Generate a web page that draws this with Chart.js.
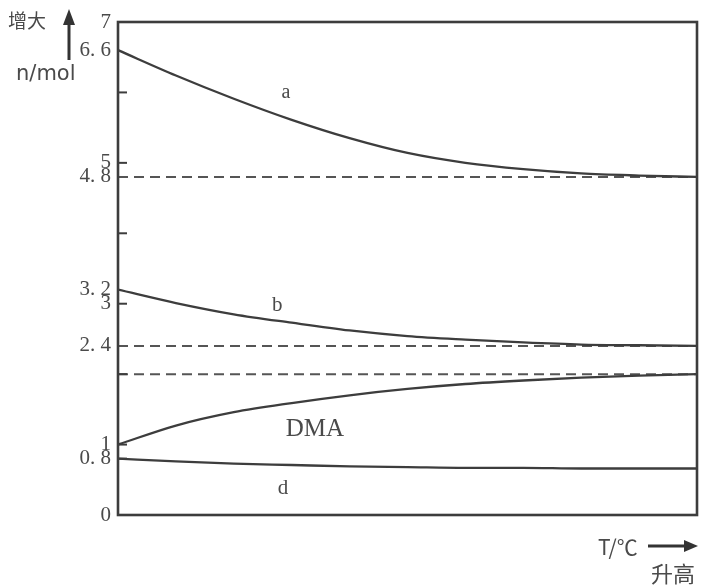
<!DOCTYPE html>
<html>
<head>
<meta charset="utf-8">
<script src="https://cdn.jsdelivr.net/npm/chart.js@4.4.1/dist/chart.umd.min.js"></script>
<style>
  html, body { margin: 0; padding: 0; background: #fff; }
  #wrap { width: 702px; height: 587px; position: relative; }
</style>
</head>
<body>
<div id="wrap"><canvas id="c" width="702" height="587"></canvas></div>
<script>
// ---- data ----
const tSteps     = [0, 1, 2, 3, 4, 5, 6, 7, 8, 9, 10];          // temperature rising (no scale values)
const seriesA    = [6.6, 6.24, 5.91, 5.61, 5.35, 5.14, 5.00, 4.91, 4.85, 4.82, 4.80];
const seriesB    = [3.2, 3.01, 2.85, 2.73, 2.62, 2.54, 2.49, 2.45, 2.42, 2.41, 2.40];
const seriesDMA  = [1.0, 1.27, 1.46, 1.59, 1.70, 1.79, 1.86, 1.91, 1.95, 1.98, 2.00];
const seriesD    = [0.8, 0.76, 0.73, 0.71, 0.69, 0.68, 0.67, 0.67, 0.66, 0.66, 0.66];
const limitLevels = [4.8, 2.4, 2.0];                            // dashed asymptotes
const yTickValues = [0, 0.8, 1, 2.4, 3, 3.2, 4.8, 5, 6.6, 7];  // labelled ticks
const yMarkValues = [0.8, 1, 2, 3, 4, 5, 6];                    // small inward tick marks
const curveNames  = ['a', 'b', 'DMA', 'd'];

const INK = '#3d3d3d';
const TXT = '#4a4a4a';

function pts(arr) { return arr.map((v, i) => ({ x: tSteps[i], y: v })); }
function flat(v) { return [{ x: tSteps[0], y: v }, { x: tSteps[tSteps.length - 1], y: v }]; }
function fmt(v) {
  if (Number.isInteger(v)) return String(v);
  return v.toFixed(1).replace('.', '. ');
}

const solid = (data) => ({
  data: pts(data), borderColor: INK, borderWidth: 2.3, pointRadius: 0,
  cubicInterpolationMode: 'monotone', fill: false
});
const dashed = (v) => ({
  data: flat(v), borderColor: '#555', borderWidth: 2, borderDash: [10, 6],
  pointRadius: 0, fill: false
});

const curveLabelAnchors = [
  { t: 2.9, n: 6.0, font: '20px "Liberation Serif"' },
  { t: 2.75, n: 2.98, font: '21px "Liberation Serif"' },
  { t: 3.4, n: 1.22, font: '25px "Liberation Serif"' },
  { t: 2.85, n: 0.38, font: '21px "Liberation Serif"' }
];

const decor = {
  id: 'decor',
  afterDatasetsDraw(chart) {
    const { ctx, chartArea: ca, scales: { x, y } } = chart;
    ctx.save();
    // frame
    ctx.strokeStyle = INK;
    ctx.lineWidth = 2.6;
    ctx.strokeRect(ca.left, ca.top, ca.right - ca.left, ca.bottom - ca.top);
    // inward tick marks
    ctx.lineWidth = 2;
    yMarkValues.forEach(v => {
      const py = y.getPixelForValue(v);
      ctx.beginPath(); ctx.moveTo(ca.left, py); ctx.lineTo(ca.left + 9, py); ctx.stroke();
    });
    // curve labels
    ctx.fillStyle = TXT;
    ctx.textAlign = 'center';
    ctx.textBaseline = 'middle';
    curveNames.forEach((name, i) => {
      const a = curveLabelAnchors[i];
      ctx.font = a.font;
      ctx.fillText(name, x.getPixelForValue(a.t), y.getPixelForValue(a.n));
    });
    // axis titles
    ctx.textAlign = 'left';
    ctx.textBaseline = 'alphabetic';
    ctx.font = '19px "Noto Sans CJK SC"';
    ctx.fillText('增大', 8, 28);
    ctx.font = '21px "DejaVu Sans"';
    ctx.fillText('n/mol', 16, 80);
    // up arrow
    ctx.strokeStyle = '#333';
    ctx.fillStyle = '#333';
    ctx.lineWidth = 3;
    ctx.beginPath(); ctx.moveTo(69, 60); ctx.lineTo(69, 22); ctx.stroke();
    ctx.beginPath(); ctx.moveTo(63, 25); ctx.lineTo(69, 9); ctx.lineTo(75, 25); ctx.closePath(); ctx.fill();
    // x title
    ctx.fillStyle = TXT;
    ctx.font = '21px "Noto Sans CJK SC"';
    ctx.fillText('T/℃', 598, 555);
    ctx.font = '22px "Noto Sans CJK SC"';
    ctx.fillText('升高', 651, 582);
    // right arrow
    ctx.strokeStyle = '#333';
    ctx.fillStyle = '#333';
    ctx.lineWidth = 3;
    ctx.beginPath(); ctx.moveTo(648, 546); ctx.lineTo(688, 546); ctx.stroke();
    ctx.beginPath(); ctx.moveTo(684, 540); ctx.lineTo(698, 546); ctx.lineTo(684, 552); ctx.closePath(); ctx.fill();
    ctx.restore();
  }
};

new Chart(document.getElementById('c'), {
  type: 'line',
  data: {
    datasets: [
      solid(seriesA), solid(seriesB), solid(seriesDMA), solid(seriesD),
      ...limitLevels.map(dashed)
    ]
  },
  options: {
    responsive: false,
    animation: false,
    layout: { padding: { left: 0, right: 5, top: 22, bottom: 72 } },
    plugins: { legend: { display: false }, tooltip: { enabled: false } },
    scales: {
      x: { type: 'linear', min: tSteps[0], max: tSteps[tSteps.length - 1], display: false },
      y: {
        type: 'linear', min: 0, max: 7,
        grid: { display: false, drawTicks: false },
        border: { display: false },
        afterBuildTicks: (s) => { s.ticks = yTickValues.map(v => ({ value: v })); },
        afterFit: (s) => { s.width = 118; },
        ticks: {
          autoSkip: false,
          padding: 7,
          color: TXT,
          font: { family: '"Liberation Serif"', size: 21 },
          callback: (v) => fmt(v)
        }
      }
    }
  },
  plugins: [decor]
});
</script>
</body>
</html>
